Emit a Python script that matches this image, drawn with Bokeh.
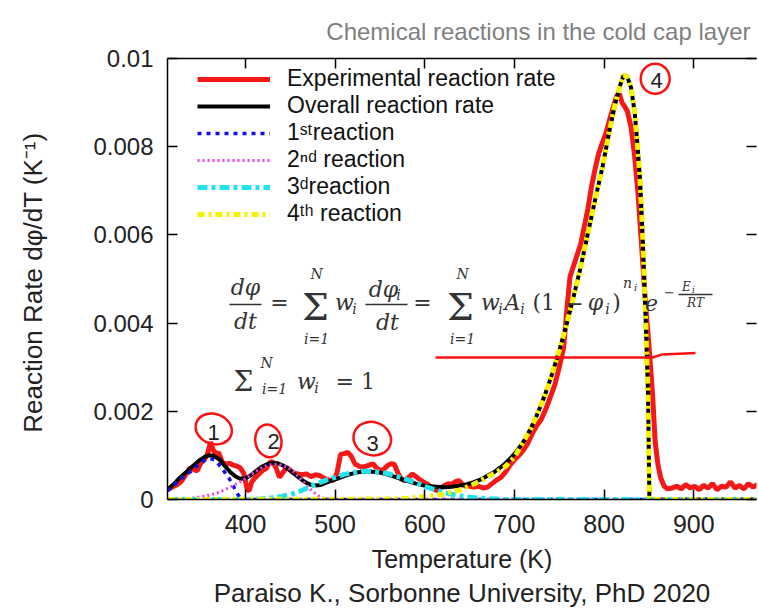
from bokeh.plotting import figure
from bokeh.models import (Legend, LegendItem, Label, FixedTicker, LinearAxis, Title,
                          CustomJSTickFormatter, BoxAnnotation)
from bokeh.core.properties import value
from bokeh.embed import file_html
from bokeh.resources import INLINE

# ---------------- data ----------------
x_ticks = [400, 500, 600, 700, 800, 900]
y_ticks = [0, 0.002, 0.004, 0.006, 0.008, 0.01]

exp_T = [313, 318, 324, 328, 333, 338, 342, 346, 350, 354, 358, 361, 364, 367, 370, 374, 378, 382, 386, 390,
         394, 398, 402, 404, 407, 411, 415, 419, 423, 427, 430, 434, 438, 442, 446, 450, 454, 458, 463, 468,
         473, 478, 483, 488, 493, 498, 502, 506, 510, 514, 518, 522, 526, 530, 534, 538, 542, 546, 550, 554,
         558, 562, 566, 570, 574, 578, 582, 586, 590, 594, 598, 602, 606, 610, 614, 618, 622, 626, 630, 634,
         638, 642, 646, 650, 655, 660, 665, 670, 675, 680, 685, 690, 695, 700, 705, 710, 715, 720, 725, 730,
         735, 740, 745, 750, 755, 758, 762, 766, 770, 774, 778, 782, 786, 790, 794, 798, 802, 806, 810, 814,
         817, 820, 823, 826, 830, 834, 838, 842, 846, 850, 854, 857, 860, 863, 867, 871, 876, 881, 886, 891,
         896, 901, 906, 911, 916, 921, 926, 931, 936, 941, 946, 951, 956, 961, 966, 971]
exp_rate = [0.00022, 0.00028, 0.00034, 0.00040, 0.00055, 0.00072, 0.00068, 0.00065, 0.00082, 0.00090,
            0.00105, 0.00130, 0.00112, 0.00104, 0.00106, 0.00085, 0.00080, 0.00082, 0.00078, 0.00076,
            0.00072, 0.00060, 0.00022, 0.00020, 0.00040, 0.00050, 0.00058, 0.00066, 0.00070, 0.00084,
            0.00086, 0.00072, 0.00050, 0.00062, 0.00073, 0.00066, 0.00060, 0.00058, 0.00056, 0.00058,
            0.00052, 0.00056, 0.00054, 0.00048, 0.00044, 0.00043, 0.00060, 0.00102, 0.00104, 0.00107,
            0.00098, 0.00081, 0.00076, 0.00073, 0.00075, 0.00078, 0.00081, 0.00072, 0.00066, 0.00068,
            0.00076, 0.00081, 0.00080, 0.00060, 0.00046, 0.00043, 0.00050, 0.00058, 0.00052, 0.00046,
            0.00040, 0.00036, 0.00030, 0.00024, 0.00020, 0.00026, 0.00032, 0.00036, 0.00034, 0.00040,
            0.00043, 0.00034, 0.00030, 0.00030, 0.00028, 0.00030, 0.00026, 0.00028, 0.00036, 0.00044,
            0.00050, 0.00062, 0.00078, 0.00090, 0.00100, 0.00112, 0.00128, 0.00150, 0.00168, 0.00182,
            0.00205, 0.00232, 0.00260, 0.00300, 0.00346, 0.00420, 0.00505, 0.00530, 0.00555, 0.00580,
            0.00620, 0.00660, 0.00710, 0.00750, 0.00785, 0.00808, 0.00830, 0.00860, 0.00888, 0.00915,
            0.00921, 0.00900, 0.00891, 0.00880, 0.00845, 0.00780, 0.00690, 0.00570, 0.00450, 0.00350,
            0.00240, 0.00130, 0.00080, 0.00050, 0.00030, 0.00024, 0.00026, 0.00030, 0.00024, 0.00034,
            0.00026, 0.00030, 0.00022, 0.00032, 0.00026, 0.00036, 0.00022, 0.00030, 0.00028, 0.00040,
            0.00026, 0.00032, 0.00024, 0.00036, 0.00028, 0.00034]

overall_T = [313, 320, 327, 335, 342, 348, 354, 359, 363, 367, 372, 377, 383, 389, 394, 400, 406, 412, 418,
             424, 430, 436, 442, 448, 454, 460, 466, 472, 478, 484, 490, 496, 502, 510, 518, 526, 534, 542,
             550, 558, 566, 574, 582, 590, 598, 606, 614, 622, 630, 638, 646, 654, 662, 670, 678, 686, 694,
             702, 710, 718, 726, 734, 742, 750, 758, 766, 774, 782, 790, 798, 806, 812, 818, 822, 826, 830,
             834, 837, 840, 843, 846, 849, 850.5, 852, 900, 970]
overall_rate = [0.00022, 0.00035, 0.00050, 0.00064, 0.00077, 0.00088, 0.00096, 0.00100, 0.00100, 0.00096,
                0.00089, 0.00076, 0.00062, 0.00052, 0.00047, 0.00048, 0.00055, 0.00065, 0.00074, 0.00080,
                0.00083, 0.00082, 0.00077, 0.00069, 0.00059, 0.00049, 0.00040, 0.00034, 0.00032, 0.00033,
                0.00038, 0.00043, 0.00047, 0.00053, 0.00058, 0.00062, 0.00064, 0.00063, 0.00061, 0.00057,
                0.00052, 0.00046, 0.00041, 0.00036, 0.00032, 0.00030, 0.00029, 0.00028, 0.00029, 0.00031,
                0.00034, 0.00039, 0.00045, 0.00054, 0.00063, 0.00075, 0.00090, 0.00108, 0.00131, 0.00160,
                0.00196, 0.00237, 0.00285, 0.00338, 0.00396, 0.00460, 0.00528, 0.00604, 0.00680, 0.00752,
                0.00836, 0.00894, 0.00940, 0.00963, 0.00958, 0.00934, 0.00880, 0.00810, 0.00730, 0.00600,
                0.00430, 0.00240, 0.00005, 0.0, 0.0, 0.0]

r1_T = [313, 320, 327, 335, 342, 348, 354, 358, 362, 366, 370, 374, 378, 382, 386, 390, 394, 400, 420, 970]
r1_rate = [0.00020, 0.00032, 0.00045, 0.00058, 0.00068, 0.00080, 0.00088, 0.00092, 0.00092, 0.00089,
           0.00080, 0.00070, 0.00058, 0.00047, 0.00032, 0.00016, 0.00004, 0.0, 0.0, 0.0]

r2_T = [313, 330, 340, 350, 360, 370, 378, 386, 394, 402, 410, 418, 424, 430, 436, 442, 448, 454, 460,
        466, 472, 478, 484, 490, 500, 970]
r2_rate = [0.0, 0.00001, 0.00003, 0.00006, 0.00010, 0.00016, 0.00023, 0.00031, 0.00040, 0.00050, 0.00062,
           0.00072, 0.00077, 0.00080, 0.00080, 0.00077, 0.00071, 0.00062, 0.00050, 0.00037, 0.00024,
           0.00013, 0.00005, 0.00001, 0.0, 0.0]

r3_T = [313, 410, 420, 430, 440, 450, 460, 470, 480, 490, 500, 510, 520, 530, 540, 550, 560, 570, 580, 590,
        600, 610, 620, 630, 640, 650, 660, 670, 680, 690, 700, 970]
r3_rate = [0.0, 0.0, 0.00002, 0.00004, 0.00007, 0.00011, 0.00018, 0.00027, 0.00036, 0.00044, 0.00050,
           0.00057, 0.00061, 0.00064, 0.00064, 0.00062, 0.00058, 0.00052, 0.00045, 0.00038, 0.00030,
           0.00023, 0.00017, 0.00012, 0.00008, 0.00005, 0.00003, 0.00002, 0.00001, 0.0, 0.0, 0.0]

r4_T = [313, 560, 580, 600, 620, 640, 660, 680, 690, 700, 710, 718, 726, 734, 742, 750, 758, 766, 774, 782,
        790, 798, 806, 812, 818, 822, 826, 830, 834, 837, 840, 843, 846, 849, 850.5, 852, 970]
r4_rate = [0.0, 0.00001, 0.00003, 0.00006, 0.00012, 0.00022, 0.00040, 0.00062, 0.00075, 0.00096, 0.00131,
           0.00160, 0.00196, 0.00237, 0.00285, 0.00338, 0.00396, 0.00460, 0.00528, 0.00604, 0.00680,
           0.00752, 0.00836, 0.00894, 0.00940, 0.00963, 0.00958, 0.00934, 0.00880, 0.00810, 0.00730,
           0.00600, 0.00430, 0.00240, 0.00005, 0.0, 0.0]

legend_labels = ["Experimental reaction rate", "Overall reaction rate", "1ˢᵗreaction",
                 "2ⁿᵈ reaction", "3ᵈreaction", "4ᵗʰ reaction"]

# peak markers written on the chart, and the hand-drawn red annotations
peak_ids = ["1", "2", "3", "4"]
peak_T = [364.5, 431.5, 541.7, 858.5]
peak_rate = [0.00152, 0.00132, 0.00127, 0.00951]
circle_T = [364.6, 425.5, 541.4, 857.0]
circle_rate = [0.00160, 0.00133, 0.00138, 0.00954]
mark_T = [612, 854, 865, 902]
mark_rate = [0.00322, 0.00322, 0.00329, 0.00332]

# ---------------- figure ----------------
FL, FB = 167, 499  # frame left / bottom on the page (pixels)
SANS = "Liberation Sans"

p = figure(width=758, height=608, output_backend="svg", toolbar_location=None,
           x_range=(313, 970), y_range=(0, 0.01),
           min_border_left=FL, min_border_right=2, min_border_top=58, min_border_bottom=109,
           background_fill_color="white", border_fill_color="white", outline_line_color=None)
p.grid.visible = False

p.title = Title(text="Chemical reactions in the cold cap layer", align="right", offset=6, standoff=27,
                text_font=SANS, text_font_size="24px", text_font_style="normal", text_color="#7f7f7f")

r_exp = p.line(exp_T, exp_rate, line_color="#f41818", line_width=5)
r_all = p.line(overall_T, overall_rate, line_color="black", line_width=4)
r_1 = p.line(r1_T, r1_rate, line_color="#1010e8", line_width=3.5, line_dash="4 5")
r_2 = p.line(r2_T, r2_rate, line_color="#ee40ee", line_width=3, line_dash="2 3")
r_3 = p.line(r3_T, r3_rate, line_color="#22e2ee", line_width=5, line_dash="10 4 4 4")
r_4 = p.line(r4_T, r4_rate, line_color="#f4f400", line_width=5, line_dash="7 4 3 4")

# axes
for ax in (p.xaxis[0], p.yaxis[0]):
    ax.major_tick_in = 10
    ax.major_tick_out = 0
    ax.minor_tick_line_color = None
    ax.axis_line_width = 1.5
    ax.major_tick_line_width = 1.5
    ax.major_label_text_font = SANS
    ax.major_label_text_color = "#222222"
    ax.axis_label_text_font = SANS
    ax.axis_label_text_font_style = "normal"
    ax.axis_label_text_color = "#222222"

p.xaxis.ticker = FixedTicker(ticks=x_ticks)
p.xaxis.major_label_text_font_size = "25px"
p.xaxis.major_label_standoff = 15
p.xaxis.axis_label = "Temperature (K)"
p.xaxis.axis_label_text_font_size = "25px"
p.xaxis.axis_label_standoff = 9

p.yaxis.ticker = FixedTicker(ticks=y_ticks)
p.yaxis.formatter = CustomJSTickFormatter(code="return tick === 0 ? '0' : String(tick);")
p.yaxis.major_label_text_font_size = "24px"
p.yaxis.major_label_standoff = 14
p.yaxis.axis_label = "Reaction Rate  dφ/dT (K⁻¹)"
p.yaxis.axis_label_text_font_size = "26px"
p.yaxis.axis_label_standoff = 42

blank = CustomJSTickFormatter(code="return '';")
top_ax = LinearAxis(ticker=FixedTicker(ticks=x_ticks), formatter=blank, major_tick_in=10, major_tick_out=0,
                    minor_tick_line_color=None, major_label_text_font_size="1px", major_label_standoff=0,
                    axis_line_width=1.5, major_tick_line_width=1.5)
right_ax = LinearAxis(ticker=FixedTicker(ticks=y_ticks), formatter=blank, major_tick_in=10, major_tick_out=0,
                      minor_tick_line_color=None, major_label_text_font_size="1px", major_label_standoff=0,
                      axis_line_color=None, major_tick_line_width=1.5)
p.add_layout(top_ax, "above")
p.add_layout(right_ax, "right")

p.add_layout(Title(text="Paraiso K., Sorbonne University, PhD 2020", align="center", offset=-25, standoff=0,
                   text_font=SANS, text_font_size="26px", text_font_style="normal", text_color="#222222"),
             "below")

# legend
legend = Legend(items=[LegendItem(label=lab, renderers=[r]) for lab, r in
                       zip(legend_labels, [r_exp, r_all, r_1, r_2, r_3, r_4])],
                location=(30, 272), padding=0, margin=0, spacing=0,
                glyph_width=73, glyph_height=20, label_height=20, label_standoff=17,
                label_text_font=SANS, label_text_font_size="23px", label_text_color="#111111",
                border_line_color=None, background_fill_alpha=0)
p.add_layout(legend)

# peak numbers and red hand annotations
p.text(peak_T, peak_rate, text=peak_ids, text_font=value(SANS), text_font_size="22px",
       text_align="center", text_baseline="middle", text_color="#222222")
p.ellipse(circle_T, circle_rate, width=[37, 26, 38, 29], height=[30, 33, 33, 30],
          width_units="screen", height_units="screen", angle=[-0.35, 0.2, -0.3, 0.0],
          fill_alpha=0, line_color="#ff1010", line_width=2.5)
p.line(mark_T, mark_rate, line_color="#ff1010", line_width=2.5)


# ---------------- equation text placed in page pixels ----------------
def put(txt, xp, yp, size, font="DejaVu Serif", style="italic", align="center", color="#333333"):
    p.add_layout(Label(x=xp - FL, y=FB - yp, x_units="screen", y_units="screen", text=txt,
                       text_font=font, text_font_size=f"{size}px", text_font_style=style,
                       text_align=align, text_baseline="middle", text_color=color))


def bar(x1, x2, yp):
    p.add_layout(BoxAnnotation(left=x1 - FL, right=x2 - FL, bottom=FB - yp - 0.7, top=FB - yp + 0.7,
                               left_units="screen", right_units="screen", top_units="screen",
                               bottom_units="screen", fill_color="#333333", fill_alpha=1,
                               line_color=None))


# equation row 1
put("dφ", 245, 287, 22)
bar(229, 261, 304)
put("dt", 245, 321, 22)
put("=", 279, 302, 22, style="normal")
put("Σ", 315, 306, 38, style="normal")
put("N", 316, 273, 14)
put("i=1", 316, 338, 14)
put("w", 344, 302, 22)
put("i", 354, 308, 14)
put("dφ", 383, 289, 22)
put("i", 398, 294, 14)
bar(365, 407, 304)
put("dt", 387, 322, 22)
put("=", 422, 302, 22, style="normal")
put("Σ", 460, 306, 38, style="normal")
put("N", 462, 273, 14)
put("i=1", 462, 338, 14)
put("w", 490, 302, 22)
put("i", 500, 308, 14)
put("A", 512, 302, 22)
put("i", 522, 308, 14)
put("(1", 532, 302, 22, style="normal", align="left")
put("−", 574, 302, 22, style="normal")
put("φ", 595, 302, 22)
put("i", 607, 308, 14)
put(")", 616, 302, 22, style="normal")
put("n", 627, 282, 14)
put("i", 635, 287, 10)
put("e", 651, 302, 22)
put("−", 669, 291, 13, style="normal")
put("E", 686, 286, 12)
put("i", 693, 289, 9)
bar(678, 712, 294)
put("RT", 695, 302, 12)

# equation row 2
put("Σ", 243, 381, 28, style="normal")
put("N", 266, 362, 14)
put("i=1", 274, 388, 14)
put("w", 306, 381, 22)
put("i", 316, 387, 14)
put("= 1", 335, 381, 22, style="normal", align="left")

open("out.html", "w").write(file_html(p, INLINE))
